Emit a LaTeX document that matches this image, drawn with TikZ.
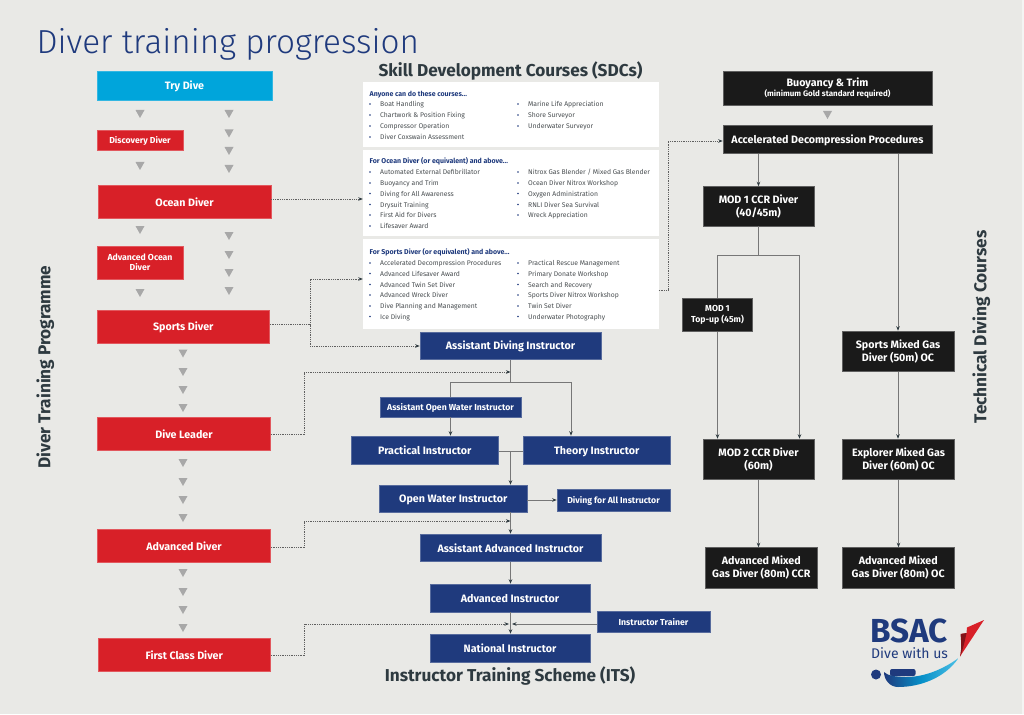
\documentclass[tikz,border=0pt]{standalone}
\usepackage{fontspec}
\setmainfont{Fira Sans}
\newfontfamily\lightf{Fira Sans Light}
\usetikzlibrary{arrows.meta}
\definecolor{bgc}{HTML}{E9E9E6}
\definecolor{redc}{HTML}{D82028}
\definecolor{bluec}{HTML}{1F3A7D}
\definecolor{blackc}{HTML}{1A1A1A}
\definecolor{cyanc}{HTML}{00A5DB}
\definecolor{triangc}{HTML}{A8A8A8}
\definecolor{linec}{HTML}{777777}
\definecolor{headc}{HTML}{2E3A40}
\definecolor{listc}{HTML}{4A4F52}
\newcounter{lic}
\newcommand{\boxstrut}{\rule[-0.08em]{0pt}{1.065em}}
\tikzset{
  boxbase/.style={inner sep=0pt,text=white,align=center,font=\bfseries\fontsize{10.7}{13}\selectfont,execute at begin node=\boxstrut,execute at end node=\boxstrut},
  redbox/.style={boxbase,fill=redc,draw=redc!75!white,line width=.5pt},
  cyanbox/.style={boxbase,fill=cyanc,draw=cyanc!80!white,line width=.5pt},
  bluebox/.style={boxbase,fill=bluec,draw=bluec!75!white,line width=.5pt},
  blackbox/.style={boxbase,fill=blackc,draw=blackc!70!white,line width=.5pt},
  smalltxt/.style={font=\bfseries\fontsize{8.7}{10.5}\selectfont},
  panel/.style={fill=white,inner sep=0pt},
  listitem/.style={anchor=west,inner sep=0pt,yshift=-1pt,text=listc,text height=5pt,text depth=1.5pt,font=\fontsize{6.8}{8}\selectfont},
  listhead/.style={anchor=west,inner sep=0pt,yshift=-1pt,text=bluec,text height=5pt,text depth=1.5pt,font=\bfseries\fontsize{7}{8}\selectfont},
  heading/.style={inner sep=0pt,text=headc,text height=12pt,text depth=3.5pt,font=\bfseries\fontsize{17.2}{19}\selectfont},
  solidarrow/.style={draw=linec,line width=.8pt,-{Stealth[length=4.5pt,width=3.5pt,color=headc]}},
  solidline/.style={draw=linec,line width=.8pt},
  dotarrow/.style={draw=linec!80!black,line width=.8pt,dash pattern=on 1pt off .8pt,-{Stealth[length=4.5pt,width=3.5pt,color=headc]}},
  dotline/.style={draw=linec!80!black,line width=.8pt,dash pattern=on 1pt off .8pt},
}
% \bxn{style}{name}{x1}{y1}{x2}{y2}{text}
\newcommand{\bxn}[7]{%
  \pgfmathsetmacro{\bxcx}{(#3+#5)/2}\pgfmathsetmacro{\bxcy}{(#4+#6)/2}%
  \pgfmathsetmacro{\bxw}{#5-#3}\pgfmathsetmacro{\bxh}{#6-#4}%
  \node[#1,minimum width=\bxw pt,minimum height=\bxh pt] (#2) at (\bxcx,\bxcy) {#7};%
}
\newcommand{\tri}[2]{\fill[triangc] ({#1-4.5},{#2-4}) -- ({#1+4.5},{#2-4}) -- (#1,{#2+4}) -- cycle;}
\newcommand{\li}[3]{%
  \stepcounter{lic}%
  \fill[bluec] ({#1-10},#2) circle (.8);
  \node[listitem] (li\thelic) at (#1,#2) {#3};%
}
\begin{document}
\begin{tikzpicture}[x=1pt,y=-1pt]
\useasboundingbox (0,0) rectangle (1024,714);
\fill[bgc] (0,0) rectangle (1024,714);
\fill[bgc!50!white] (1022,0) rectangle (1024,714);
% Titles
\node[anchor=west,inner sep=0pt,text=bluec,font=\lightf\fontsize{33.3}{38}\selectfont] (title) at (36.5,44) {Diver training progression};
\node[heading] (sdc) at (510.5,72) {Skill Development Courses (SDCs)};
\node[heading] (its) at (510,677) {Instructor Training Scheme (ITS)};
\node[heading,rotate=90] (dtp) at (46,367) {Diver Training Programme};
\node[heading,rotate=90] (tdc) at (982,327) {Technical Diving Courses};
% Left column
\bxn{cyanbox}{try}{97}{71}{272}{100}{Try Dive}
\bxn{redbox,smalltxt}{disc}{97}{130}{183}{150}{Discovery Diver}
\bxn{redbox}{ocean}{98}{185}{271}{218}{Ocean Diver}
\bxn{redbox,smalltxt}{advocean}{97}{246}{183}{279}{Advanced Ocean\\Diver}
\bxn{redbox}{sports}{97}{310}{269.5}{343}{Sports Diver}
\bxn{redbox}{leader}{97.5}{417}{270.5}{450}{Dive Leader}
\bxn{redbox}{advd}{97.5}{529}{270.5}{562}{Advanced Diver}
\bxn{redbox}{first}{98}{638}{270.5}{671}{First Class Diver}
\foreach \y in {114,166,230,293} {\tri{140}{\y}}
\foreach \y in {114,133.5,151,169,236,255,273,291} {\tri{229}{\y}}
\foreach \y in {353.5,372,390,408,463,482,500,518,573,592,610,628} {\tri{183}{\y}}
\tri{827.5}{115}
% Panels
\bxn{panel}{p1}{363}{82}{658.5}{147}{}
\bxn{panel}{p2}{363}{150}{658.5}{236}{}
\bxn{panel}{p3}{363}{239}{658.5}{329}{}
\node[listhead] (h1) at (369.5,93.5) {Anyone can do these courses...};
\li{380}{104}{Boat Handling}
\li{380}{115}{Chartwork \& Position Fixing}
\li{380}{126}{Compressor Operation}
\li{380}{137}{Diver Coxswain Assessment}
\li{528}{104}{Marine Life Appreciation}
\li{528}{115}{Shore Surveyor}
\li{528}{126}{Underwater Surveyor}
\node[listhead] (h2) at (369.5,161) {For Ocean Diver (or equivalent) and above...};
\li{380}{172}{Automated External Defibrillator}
\li{380}{183}{Buoyancy and Trim}
\li{380}{193.5}{Diving for All Awareness}
\li{380}{204.5}{Drysuit Training}
\li{380}{215}{First Aid for Divers}
\li{380}{226}{Lifesaver Award}
\li{528}{172}{Nitrox Gas Blender / Mixed Gas Blender}
\li{528}{183}{Ocean Diver Nitrox Workshop}
\li{528}{193.5}{Oxygen Administration}
\li{528}{204.5}{RNLI Diver Sea Survival}
\li{528}{215}{Wreck Appreciation}
\node[listhead] (h3) at (369.5,252) {For Sports Diver (or equivalent) and above...};
\li{380}{263}{Accelerated Decompression Procedures}
\li{380}{273.5}{Advanced Lifesaver Award}
\li{380}{284.5}{Advanced Twin Set Diver}
\li{380}{295}{Advanced Wreck Diver}
\li{380}{306}{Dive Planning and Management}
\li{380}{316.5}{Ice Diving}
\li{528}{263}{Practical Rescue Management}
\li{528}{273.5}{Primary Donate Workshop}
\li{528}{284.5}{Search and Recovery}
\li{528}{295}{Sports Diver Nitrox Workshop}
\li{528}{306}{Twin Set Diver}
\li{528}{316.5}{Underwater Photography}
% Blue boxes
\bxn{bluebox}{adi}{420}{332}{601}{359.5}{Assistant Diving Instructor}
\bxn{bluebox,smalltxt}{aowi}{380}{397}{521}{417}{Assistant Open Water Instructor}
\bxn{bluebox}{prac}{351}{436}{498.5}{464}{Practical Instructor}
\bxn{bluebox}{theory}{523}{436}{670.5}{464}{Theory Instructor}
\bxn{bluebox}{owi}{379.5}{485}{527}{512}{Open Water Instructor}
\bxn{bluebox,smalltxt}{dfa}{557}{489}{670}{511}{Diving for All Instructor}
\bxn{bluebox}{aai}{420}{534}{601}{561.5}{Assistant Advanced Instructor}
\bxn{bluebox}{ai}{430}{584}{590}{612}{Advanced Instructor}
\bxn{bluebox}{ni}{430}{634}{590}{662}{National Instructor}
\bxn{bluebox,smalltxt}{it}{597}{611}{710}{632}{Instructor Trainer}
% Black boxes
\bxn{blackbox}{bt}{723}{71.5}{932}{105.5}{Buoyancy \& Trim\\[-3pt]{\bfseries\fontsize{8}{9}\selectfont (minimum Gold standard required)}}
\bxn{blackbox}{adp}{723}{125}{932}{153.5}{Accelerated Decompression Procedures}
\bxn{blackbox}{mod1}{703}{186.5}{814}{226}{MOD 1 CCR Diver\\(40/45m)}
\bxn{blackbox,smalltxt}{topup}{682.5}{298}{752.5}{331.5}{MOD 1\\Top-up (45m)}
\bxn{blackbox}{smg}{842}{331}{954}{371.5}{Sports Mixed Gas\\Diver (50m) OC}
\bxn{blackbox}{mod2}{703}{439}{814}{479.5}{MOD 2 CCR Diver\\(60m)}
\bxn{blackbox}{emg}{842.5}{439}{954.5}{479.5}{Explorer Mixed Gas\\Diver (60m) OC}
\bxn{blackbox}{amccr}{705.5}{547.5}{817}{588}{Advanced Mixed\\Gas Diver (80m) CCR}
\bxn{blackbox}{amoc}{842.5}{547.5}{954}{588}{Advanced Mixed\\Gas Diver (80m) OC}
% Junction coordinates
\coordinate (jadi) at (510.5,382);
\coordinate (jleft) at (450.5,382);
\coordinate (jright) at (571,382);
\coordinate (jpt) at (510.5,451);
\coordinate (jmod) at (758.5,255);
\coordinate (jml) at (717.5,255);
\coordinate (jmr) at (799.5,255);
\coordinate (dadi1) at (310,324.5);
\coordinate (dadi2) at (310,279);
\coordinate (dadi3) at (310,346);
\coordinate (dl1) at (304,434);
\coordinate (dl2) at (304,372);
\coordinate (dl3) at (510.5,372);
\coordinate (da1) at (304,547);
\coordinate (da2) at (304,521);
\coordinate (da3) at (510.5,521);
\coordinate (df1) at (304,655);
\coordinate (df2) at (304,624);
\coordinate (df3) at (509,624);
\coordinate (dp1) at (668,290);
\coordinate (dp2) at (668,141);
\coordinate (itend) at (512,624);
% Solid connectors
\draw[solidline] (adi.south) -- (jadi);
\draw[solidline] (jleft) -- (jright);
\draw[solidline] (jleft) -- (jleft |- aowi.north);
\draw[solidarrow] (jleft |- aowi.south) -- (jleft |- prac.north);
\draw[solidarrow] (jright) -- (jright |- theory.north);
\draw[solidline] (prac.east |- jpt) -- (theory.west |- jpt);
\draw[solidarrow] (jpt) -- (jpt |- owi.north);
\draw[solidarrow] (owi.east |- dfa.west) -- (dfa.west);
\draw[solidarrow] (jpt |- owi.south) -- (jpt |- aai.north);
\draw[solidarrow] (jpt |- aai.south) -- (jpt |- ai.north);
\draw[solidarrow] (jpt |- ai.south) -- (jpt |- ni.north);
\draw[solidarrow] (it.west |- itend) -- (itend);
\draw[solidarrow] (mod1.north |- adp.south) -- (mod1.north);
\draw[solidarrow] (smg.north |- adp.south) -- (smg.north);
\draw[solidline] (mod1.south) -- (jmod);
\draw[solidline] (jml) -- (jmr);
\draw[solidline] (jml) -- (topup.north);
\draw[solidarrow] (topup.south) -- (topup.south |- mod2.north);
\draw[solidarrow] (jmr) -- (jmr |- mod2.north);
\draw[solidarrow] (smg.south) -- (emg.north -| smg.south);
\draw[solidarrow] (mod2.south) -- (mod2.south |- amccr.north);
\draw[solidarrow] (emg.south) -- (emg.south |- amoc.north);
% Dotted connectors
\draw[dotarrow] (ocean.east |- 0,199) -- (p2.west |- 0,199);
\draw[dotline] (sports.east |- dadi1) -- (dadi1);
\draw[dotarrow] (dadi1) -- (dadi2) -- (p3.west |- dadi2);
\draw[dotarrow] (dadi1) -- (dadi3) -- (adi.west |- dadi3);
\draw[dotarrow] (leader.east |- dl1) -- (dl1) -- (dl2) -- (dl3);
\draw[dotarrow] (advd.east |- da1) -- (da1) -- (da2) -- (da3);
\draw[dotarrow] (first.east |- df1) -- (df1) -- (df2) -- (df3);
\draw[dotarrow] (p3.east |- dp1) -- (dp1) -- (dp2) -- (adp.west |- dp2);
% Logo
\node[anchor=base west,inner sep=0pt,text=bluec] (bsac) at (870.5,658.5) {\vbox{\baselineskip=16pt\lineskiplimit=-100pt\lineskip=0pt
  \hbox{\bfseries\fontsize{33.3}{32}\selectfont BSAC}
  \hbox{\kern.5pt\fontsize{14}{16}\selectfont Dive with us}}};
\fill[bluec] (876,674.5) circle (5);
\fill[bluec,rounded corners=2pt] (890,669) -- (915.5,669) -- (915.5,676) -- (890,676) -- cycle;
\shade[left color=bluec,right color=cyanc!70!white,middle color=cyanc!80!bluec]
  (884,672) .. controls (888,676) and (895,676.5) .. (905,677) .. controls (925,677.5) and (945,668) .. (958.5,658)
  .. controls (945,678) and (920,687) .. (898,687) .. controls (890,687) and (884,680) .. (884,672) -- cycle;
\fill[redc] (984,620) -- (960,656.5) .. controls (962,648) and (961,640) .. (961,634) -- (966.5,633) -- (967,627.5) -- cycle;
\fill[redc!60!black] (960.5,634) -- (966.5,633) .. controls (965,640) and (963,650) .. (960,656.5) .. controls (962,648) and (961,640) .. (960.5,634) -- cycle;
\end{tikzpicture}
\end{document}
